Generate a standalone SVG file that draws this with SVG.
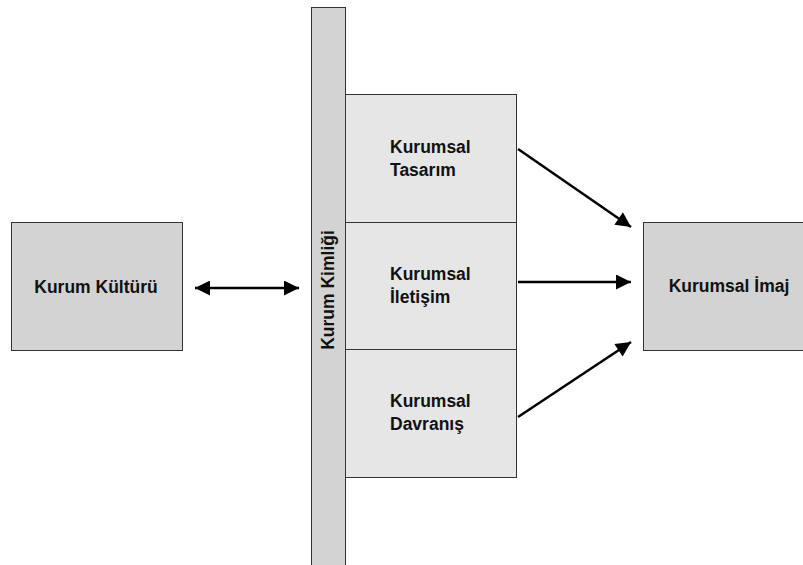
<svg xmlns="http://www.w3.org/2000/svg" width="803" height="565" viewBox="0 0 803 565">
<style>
.dark{fill:#d3d3d3;stroke:#333;stroke-width:1}
.light{fill:#e6e6e6;stroke:#333;stroke-width:1}
.t{font-family:"Liberation Sans",Arial,sans-serif;font-weight:bold;font-size:17.5px;fill:#111}
.c{stroke:#000;stroke-width:2.5;fill:none}
</style>
<defs>
<marker id="ah" viewBox="0 0 10 10" refX="10" refY="5" markerWidth="6.5" markerHeight="6" markerUnits="strokeWidth" orient="auto-start-reverse">
<path d="M0,0 L10,5 L0,10 z" fill="#000"/>
</marker>
</defs>
<rect width="803" height="565" fill="#fff"/>
<g id="kurum-kulturu">
<rect class="dark" x="11.5" y="222.5" width="171" height="128"/>
<text class="t" x="96" y="293" text-anchor="middle">Kurum Kültürü</text>
</g>
<g id="kurum-kimligi">
<rect class="dark" x="311.5" y="7.5" width="34" height="560"/>
<text class="t" transform="translate(334,290) rotate(-90)" text-anchor="middle">Kurum Kimliği</text>
</g>
<g id="kurumsal-tasarim">
<rect class="light" x="345.5" y="94.5" width="171" height="128"/>
<text class="t" x="390" y="153">Kurumsal</text>
<text class="t" x="390" y="176">Tasarım</text>
</g>
<g id="kurumsal-iletisim">
<rect class="light" x="345.5" y="222.5" width="171" height="127"/>
<text class="t" x="390" y="280">Kurumsal</text>
<text class="t" x="390" y="303">İletişim</text>
</g>
<g id="kurumsal-davranis">
<rect class="light" x="345.5" y="349.5" width="171" height="128"/>
<text class="t" x="390" y="407">Kurumsal</text>
<text class="t" x="390" y="430">Davranış</text>
</g>
<g id="kurumsal-imaj">
<rect class="dark" x="643.5" y="222.5" width="170" height="128"/>
<text class="t" x="729" y="292" text-anchor="middle">Kurumsal İmaj</text>
</g>
<g id="connectors">
<line class="c" x1="195" y1="288" x2="299" y2="288" marker-start="url(#ah)" marker-end="url(#ah)"/>
<line class="c" x1="518" y1="149" x2="631" y2="227" marker-end="url(#ah)"/>
<line class="c" x1="518" y1="282" x2="631" y2="282" marker-end="url(#ah)"/>
<line class="c" x1="518" y1="417" x2="631" y2="342" marker-end="url(#ah)"/>
</g>
</svg>
